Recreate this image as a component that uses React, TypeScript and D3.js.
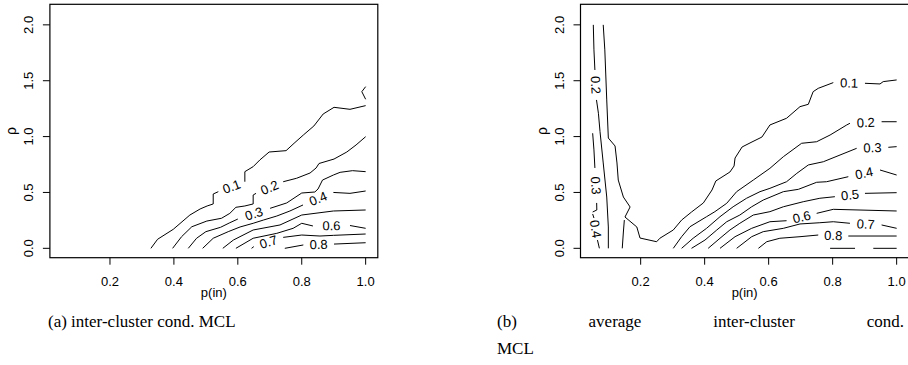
import React, { useLayoutEffect, useRef, useState } from "react";
import * as d3 from "d3";

type Pt = [number, number];
type Path = Pt[][]; // segments; a label sits in each gap between consecutive segments

const xTicks = [0.2, 0.4, 0.6, 0.8, 1.0];
const yTicks = [0, 0.5, 1.0, 1.5, 2.0];
const xTickLabels = ["0.2", "0.4", "0.6", "0.8", "1.0"];
const yTickLabels = ["0.0", "0.5", "1.0", "1.5", "2.0"];
const xDomain: [number, number] = [0.012, 1.038];
const yDomain: [number, number] = [-0.084, 2.184];

// ---------- panel (a): inter-cluster cond. MCL ----------
const a01: Path[] = [
  [
    [[0.328, 0], [0.349, 0.081], [0.398, 0.17], [0.45, 0.298], [0.482, 0.352], [0.504, 0.379], [0.523, 0.397], [0.523, 0.486], [0.539, 0.507]],
    [[0.622, 0.596], [0.622, 0.686], [0.648, 0.731], [0.669, 0.791], [0.698, 0.862], [0.751, 0.874], [0.776, 0.94], [0.805, 1.014], [0.838, 1.095], [0.867, 1.202], [0.901, 1.262], [0.951, 1.244], [1.0, 1.277]],
  ],
  [[[1.0, 1.447], [0.988, 1.402], [1.0, 1.334]]],
];
const a02: Path[] = [
  [
    [[0.396, 0], [0.424, 0.104], [0.456, 0.193], [0.503, 0.244], [0.549, 0.269], [0.575, 0.313], [0.594, 0.367], [0.622, 0.379], [0.648, 0.397], [0.648, 0.477], [0.657, 0.492]],
    [[0.742, 0.596], [0.784, 0.627], [0.826, 0.674], [0.845, 0.719], [0.854, 0.759], [0.901, 0.799], [0.941, 0.862], [0.97, 0.925], [1.0, 0.999]],
  ],
];
const a03: Path[] = [
  [
    [[0.445, 0], [0.471, 0.09], [0.5, 0.149], [0.546, 0.188], [0.575, 0.229], [0.6, 0.262]],
    [[0.701, 0.358], [0.753, 0.406], [0.8, 0.495], [0.841, 0.504], [0.851, 0.531], [0.865, 0.611], [0.899, 0.656], [0.92, 0.68], [0.959, 0.695], [1.0, 0.686]],
  ],
];
const a04: Path[] = [
  [
    [[0.49, 0], [0.523, 0.09], [0.57, 0.149], [0.607, 0.191], [0.648, 0.224], [0.68, 0.253], [0.722, 0.289], [0.763, 0.334], [0.804, 0.388]],
    [[0.899, 0.5], [0.951, 0.492], [1.0, 0.513]],
  ],
];
const a05: Path[] = [
  [[[0.553, 0], [0.586, 0.074], [0.648, 0.164], [0.732, 0.209], [0.8, 0.298], [0.899, 0.334], [1.0, 0.343]]],
];
const a06: Path[] = [
  [
    [[0.594, 0], [0.648, 0.09], [0.722, 0.134], [0.773, 0.179], [0.8, 0.224], [0.835, 0.2]],
    [[0.951, 0.204], [1.0, 0.179]],
  ],
];
const a07: Path[] = [
  [
    [[0.643, 0], [0.65, 0.015]],
    [[0.742, 0.098], [0.8, 0.119], [0.857, 0.11], [0.899, 0.116], [1.0, 0.128]],
  ],
];
const a08: Path[] = [
  [
    [[0.747, 0], [0.805, 0.03]],
    [[0.901, 0.038], [1.0, 0.05]],
  ],
];

// ---------- panel (b): average inter-cluster cond. MCL ----------
const b01: Path[] = [
  [
    [[0.083, 2.0], [0.088, 1.776], [0.094, 1.328], [0.099, 0.987], [0.12, 0.916], [0.126, 0.764], [0.13, 0.611], [0.146, 0.459], [0.167, 0.37], [0.151, 0.28], [0.188, 0.191], [0.198, 0.092], [0.25, 0.059], [0.26, 0.09], [0.302, 0.164], [0.328, 0.253], [0.359, 0.325], [0.396, 0.406], [0.423, 0.522], [0.435, 0.603], [0.479, 0.683], [0.492, 0.737], [0.495, 0.808], [0.517, 0.907], [0.548, 0.952], [0.579, 0.996], [0.604, 1.104], [0.656, 1.164], [0.698, 1.268], [0.724, 1.289], [0.739, 1.402], [0.755, 1.432], [0.802, 1.483]],
    [[0.901, 1.477], [0.948, 1.471], [0.958, 1.492], [1.0, 1.507]],
  ],
  [[[0.1425, 0], [0.146, 0.146], [0.149, 0.253]]],
];
const b02: Path[] = [
  [
    [[0.052, 2.0], [0.054, 1.776], [0.057, 1.596]],
    [[0.062, 1.328], [0.068, 1.209], [0.073, 1.044], [0.083, 0.764], [0.094, 0.459], [0.099, 0.191], [0.099, 0]],
  ],
  [
    [[0.302, 0], [0.328, 0.104], [0.354, 0.193], [0.406, 0.283], [0.432, 0.328], [0.469, 0.403], [0.5, 0.507], [0.552, 0.611], [0.604, 0.716], [0.646, 0.82], [0.703, 0.94], [0.75, 0.954], [0.792, 1.014], [0.844, 1.104], [0.854, 1.119]],
    [[0.953, 1.133], [1.0, 1.133]],
  ],
];
const b03: Path[] = [
  [
    [[0.05, 1.03], [0.054, 0.881], [0.057, 0.719]],
    [[0.0625, 0.406], [0.063, 0.343], [0.05, 0.325]],
  ],
  [
    [[0.328, 0], [0.364, 0.09], [0.406, 0.179], [0.448, 0.283], [0.489, 0.372], [0.531, 0.448], [0.573, 0.507], [0.604, 0.537], [0.656, 0.596], [0.688, 0.671], [0.724, 0.746], [0.771, 0.775], [0.823, 0.835], [0.875, 0.895]],
    [[0.974, 0.904], [1.0, 0.91]],
  ],
];
const b04: Path[] = [
  [
    [[0.05, 0.307], [0.054, 0.271]],
    [[0.065, 0.074], [0.071, 0]],
  ],
  [
    [[0.359, 0], [0.401, 0.074], [0.438, 0.164], [0.469, 0.238], [0.51, 0.298], [0.547, 0.372], [0.583, 0.432], [0.646, 0.507], [0.693, 0.528], [0.75, 0.591], [0.781, 0.596], [0.849, 0.641]],
    [[0.948, 0.701], [1.0, 0.656]],
  ],
];
const b05: Path[] = [
  [
    [[0.411, 0], [0.448, 0.09], [0.479, 0.164], [0.51, 0.224], [0.552, 0.298], [0.604, 0.328], [0.646, 0.372], [0.708, 0.417], [0.76, 0.448], [0.807, 0.462]],
    [[0.901, 0.492], [1.0, 0.498]],
  ],
];
const b06: Path[] = [
  [
    [[0.448, 0], [0.495, 0.104], [0.547, 0.179], [0.604, 0.238], [0.656, 0.247]],
    [[0.75, 0.313], [0.802, 0.349], [1.0, 0.334]],
  ],
];
const b07: Path[] = [
  [
    [[0.5, 0], [0.547, 0.104], [0.583, 0.149], [0.646, 0.179], [0.698, 0.218], [0.76, 0.229], [0.802, 0.238], [0.854, 0.224]],
    [[0.953, 0.209], [1.0, 0.179]],
  ],
];
const b08: Path[] = [
  [
    [[0.568, 0], [0.594, 0.059], [0.635, 0.09], [0.698, 0.104], [0.755, 0.119]],
    [[0.849, 0.11], [1.0, 0.11]],
  ],
];
const b09: Path[] = [
  [[[0.792, 0], [0.87, 0]]],
  [[[0.927, 0], [1.0, 0]]],
];

const levelNames = ["0.1", "0.2", "0.3", "0.4", "0.5", "0.6", "0.7", "0.8", "0.9"];
const panelALevels: Path[][] = [a01, a02, a03, a04, a05, a06, a07, a08];
const panelBLevels: Path[][] = [b01, b02, b03, b04, b05, b06, b07, b08, b09];

const SANS = "'Liberation Sans', Arial, Helvetica, sans-serif";
const SERIF = "'Liberation Serif', 'Times New Roman', serif";
const FS = 13;

function Panel({ left, right, levels }: { left: number; right: number; levels: Path[][] }) {
  const top = 4.3;
  const bottom = 257.7;
  const x = d3.scaleLinear().domain(xDomain).range([left, right]);
  const y = d3.scaleLinear().domain(yDomain).range([bottom, top]);
  const line = d3
    .line<Pt>()
    .x((d) => x(d[0]))
    .y((d) => y(d[1]));

  const segs: JSX.Element[] = [];
  const labels: JSX.Element[] = [];
  levels.forEach((paths, li) => {
    paths.forEach((path, pi) => {
      path.forEach((seg, si) => {
        segs.push(
          <path key={`s${li}-${pi}-${si}`} d={line(seg) || ""} fill="none" stroke="#000" strokeWidth={1} />
        );
        if (si < path.length - 1) {
          const a = seg[seg.length - 1];
          const b = path[si + 1][0];
          const x1 = x(a[0]), y1 = y(a[1]), x2 = x(b[0]), y2 = y(b[1]);
          let ang = (Math.atan2(y2 - y1, x2 - x1) * 180) / Math.PI;
          if (ang > 90) ang -= 180;
          if (ang <= -90) ang += 180;
          labels.push(
            <text
              key={`l${li}-${pi}-${si}`}
              transform={`translate(${(x1 + x2) / 2},${(y1 + y2) / 2}) rotate(${ang})`}
              textAnchor="middle"
              dominantBaseline="central"
              fontSize={FS}
              fontFamily={SANS}
            >
              {levelNames[li]}
            </text>
          );
        }
      });
    });
  });

  return (
    <g>
      <rect x={left} y={top} width={right - left} height={bottom - top} fill="none" stroke="#000" strokeWidth={1.2} />
      {xTicks.map((t, i) => (
        <g key={`xt${i}`}>
          <line x1={x(t)} x2={x(t)} y1={bottom} y2={bottom + 7} stroke="#000" />
          <text x={x(t)} y={286} textAnchor="middle" fontSize={FS} fontFamily={SANS}>
            {xTickLabels[i]}
          </text>
        </g>
      ))}
      {yTicks.map((t, i) => (
        <g key={`yt${i}`}>
          <line x1={left - 7} x2={left} y1={y(t)} y2={y(t)} stroke="#000" />
          <text
            transform={`translate(${left - 16.5},${y(t)}) rotate(-90)`}
            textAnchor="middle"
            fontSize={FS}
            fontFamily={SANS}
          >
            {yTickLabels[i]}
          </text>
        </g>
      ))}
      <text x={(left + right) / 2} y={297} textAnchor="middle" fontSize={FS} fontFamily={SANS}>
        p(in)
      </text>
      <text
        transform={`translate(${left - 34},${(top + bottom) / 2}) rotate(-90)`}
        textAnchor="middle"
        fontSize={14}
        fontFamily={SANS}
      >
        ρ
      </text>
      {segs}
      {labels}
    </g>
  );
}

const captionBWords = ["(b)", "average", "inter-cluster", "cond."];

function JustifiedLine({ x0, x1, y, words }: { x0: number; x1: number; y: number; words: string[] }) {
  const refs = useRef<(SVGTextElement | null)[]>([]);
  const [xs, setXs] = useState<number[] | null>(null);
  useLayoutEffect(() => {
    const w = refs.current.map((r) => (r ? r.getComputedTextLength() : 0));
    const total = w.reduce((s, v) => s + v, 0);
    const gap = (x1 - x0 - total) / (words.length - 1);
    const pos: number[] = [];
    let cx = x0;
    w.forEach((v) => {
      pos.push(cx);
      cx += v + gap;
    });
    setXs(pos);
  }, []);
  return (
    <g>
      {words.map((wd, i) => (
        <text
          key={i}
          ref={(el) => {
            refs.current[i] = el;
          }}
          x={xs ? xs[i] : x0}
          y={y}
          fontSize={17}
          fontFamily={SERIF}
          opacity={xs ? 1 : 0}
        >
          {wd}
        </text>
      ))}
    </g>
  );
}

export default function App() {
  return (
    <svg
      width={908}
      height={365}
      viewBox="0 0 908 365"
      style={{ position: "absolute", left: 0, top: 0, background: "#fff" }}
    >
      <rect x={0} y={0} width={908} height={365} fill="#fff" />
      <Panel left={49.9} right={377.8} levels={panelALevels} />
      <Panel left={580.5} right={908.8} levels={panelBLevels} />
      <text x={48} y={327} fontSize={17} fontFamily={SERIF}>
        (a) inter-cluster cond. MCL
      </text>
      <JustifiedLine x0={497} x1={904} y={327} words={captionBWords} />
      <text x={497} y={354} fontSize={17} fontFamily={SERIF}>
        MCL
      </text>
    </svg>
  );
}
